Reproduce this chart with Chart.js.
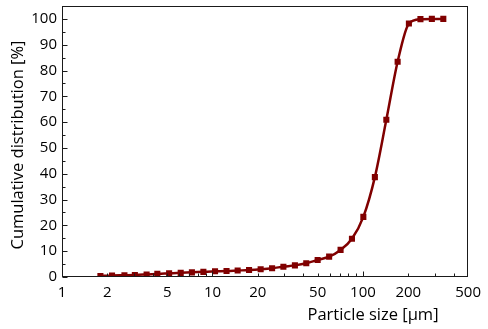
<!DOCTYPE html>
<html>
<head>
<meta charset="utf-8">
<script src="https://cdn.jsdelivr.net/npm/chart.js@4"></script>
<style>
  html, body { margin: 0; padding: 0; background: #fff; }
  #wrap { width: 488px; height: 329px; position: relative; }
</style>
</head>
<body>
<div id="wrap"><canvas id="c" width="488" height="329"></canvas></div>
<script>
// Particle size [µm]
const sizes = [1.8, 2.15, 2.6, 3.05, 3.65, 4.3, 5.15, 6.15, 7.3, 8.7, 10.4, 12.4, 14.7, 17.5, 20.9, 24.9, 29.6, 35.3, 42, 50, 59.6, 71, 84.5, 100.6, 120, 143, 170, 202, 241, 287, 342];
// Cumulative distribution [%]
const cumulative = [0.4, 0.6, 0.7, 0.8, 1.0, 1.2, 1.4, 1.6, 1.8, 2.0, 2.2, 2.3, 2.5, 2.7, 3.0, 3.4, 4.0, 4.5, 5.3, 6.6, 7.9, 10.5, 14.8, 23.3, 38.7, 60.9, 83.4, 98.2, 99.9, 100, 100];
const xTickLabels = [1, 2, 5, 10, 20, 50, 100, 200, 500];
const yTickLabels = [0, 10, 20, 30, 40, 50, 60, 70, 80, 90, 100];
const xMajorMarks = [1, 10, 100];
const xMinorMarks = [2, 3, 4, 5, 6, 7, 8, 9, 20, 30, 40, 50, 60, 70, 80, 90, 200, 300, 400];
const yMinorMarks = [5, 15, 25, 35, 45, 55, 65, 75, 85, 95];
const xTitle = 'Particle size [µm]';
const yTitle = 'Cumulative distribution [%]';

const FONT = "'Open Sans', 'DejaVu Sans', sans-serif";
const RED = '#800000';

const framePlugin = {
  id: 'frame',
  afterDraw(chart) {
    const { ctx, chartArea: a, scales: { x, y } } = chart;
    ctx.save();
    ctx.lineWidth = 1;
    ctx.strokeStyle = '#1a1a1a';
    const L = Math.round(a.left) + 0.5, R = Math.round(a.right) - 0.5;
    const T = Math.round(a.top) + 0.5, B = Math.round(a.bottom) - 0.5;
    ctx.strokeRect(L, T, R - L, B - T);
    ctx.beginPath();
    xMajorMarks.forEach(v => { const px = Math.round(x.getPixelForValue(v)) + 0.5; ctx.moveTo(px, B); ctx.lineTo(px, B - 5); });
    xMinorMarks.forEach(v => { const px = Math.round(x.getPixelForValue(v)) + 0.5; ctx.moveTo(px, B); ctx.lineTo(px, B - 3); });
    yTickLabels.forEach(v => { const py = Math.round(y.getPixelForValue(v)) + 0.5; ctx.moveTo(L, py); ctx.lineTo(L + 5, py); });
    yMinorMarks.forEach(v => { const py = Math.round(y.getPixelForValue(v)) + 0.5; ctx.moveTo(L, py); ctx.lineTo(L + 3, py); });
    ctx.stroke();
    // axis titles
    ctx.fillStyle = '#000';
    ctx.font = '16.5px ' + FONT;
    ctx.textAlign = 'center';
    ctx.textBaseline = 'middle';
    ctx.fillText(xTitle, 373, 315);
    ctx.translate(18.5, 145);
    ctx.rotate(-Math.PI / 2);
    ctx.fillText(yTitle, 0, 0);
    ctx.restore();
  }
};

new Chart(document.getElementById('c'), {
  type: 'line',
  data: {
    datasets: [{
      data: sizes.map((s, i) => ({ x: s, y: cumulative[i] })),
      borderColor: RED,
      backgroundColor: RED,
      borderWidth: 2.5,
      pointStyle: 'rect',
      pointRadius: 4.3,
      pointBorderWidth: 0,
      pointBackgroundColor: RED,
      cubicInterpolationMode: 'monotone',
      fill: false
    }]
  },
  options: {
    responsive: false,
    animation: false,
    devicePixelRatio: 1,
    layout: { padding: { left: 0, right: 18, top: 6, bottom: 0 } },
    plugins: { legend: { display: false }, tooltip: { enabled: false } },
    scales: {
      x: {
        type: 'logarithmic',
        min: 1, max: 500,
        grid: { display: false, drawTicks: false },
        border: { display: false },
        afterBuildTicks: s => { s.ticks = xTickLabels.map(v => ({ value: v })); },
        afterFit: s => { s.height = 52; },
        ticks: {
          color: '#000',
          font: { family: FONT, size: 15 },
          padding: 7,
          maxRotation: 0, autoSkip: false,
          callback: v => String(v)
        }
      },
      y: {
        min: 0, max: 105,
        grid: { display: false, drawTicks: false },
        border: { display: false },
        afterBuildTicks: s => { s.ticks = yTickLabels.map(v => ({ value: v })); },
        afterFit: s => { s.width = 62; s.paddingTop = 0; s.paddingBottom = 0; },
        ticks: {
          color: '#000',
          font: { family: FONT, size: 15 },
          padding: 5,
          callback: v => String(v)
        }
      }
    }
  },
  plugins: [framePlugin]
});
</script>
</body>
</html>
